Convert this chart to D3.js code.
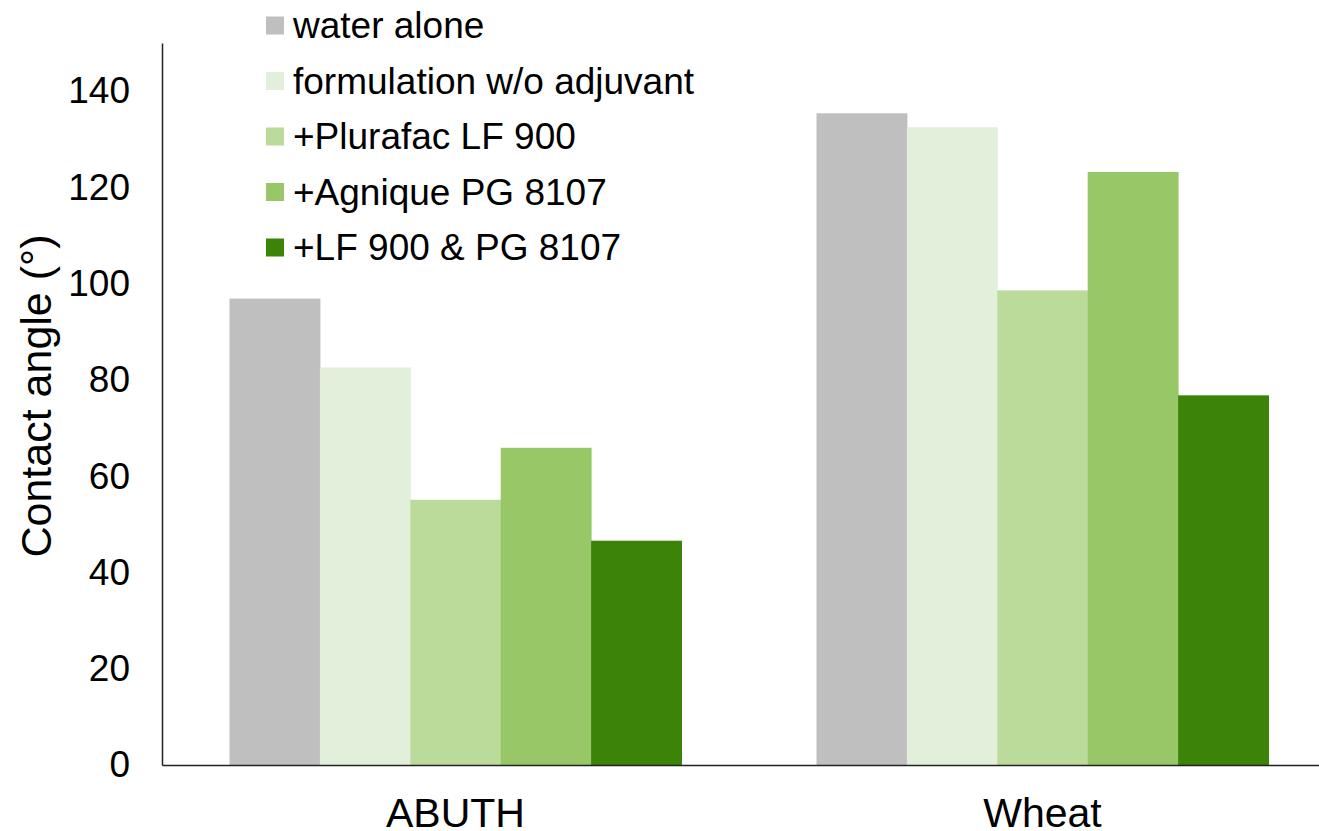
<!DOCTYPE html>
<html>
<head>
<meta charset="utf-8">
<script src="https://cdn.jsdelivr.net/npm/d3@7"></script>
<style>
    body { margin: 0; background: white; }
    text { font-family: "Liberation Sans", Arial, sans-serif; fill: #000; }
</style>
</head>
<body>
<div id="chart"></div>
<script>

// data
const categories = ["ABUTH", "Wheat"];
const seriesNames = ["water alone", "formulation w/o adjuvant", "+Plurafac LF 900", "+Agnique PG 8107", "+LF 900 & PG 8107"];
const seriesColors = ["#BFBFBF", "#E2EFDA", "#BADB9A", "#97C766", "#3B8407"];
const abuthValues = [96.9, 82.6, 55.1, 65.9, 46.6];
const wheatValues = [135.4, 132.5, 98.6, 123.2, 76.8];
const yTicks = [0, 20, 40, 60, 80, 100, 120, 140];

const valuesByCategory = {ABUTH: abuthValues, Wheat: wheatValues};

let width = 1319, height = 831;
let margin = {left: 162, top: 43, bottom: 66};

let svg = d3.select("#chart").append("svg")
    .attr("width", width)
    .attr("height", height);

// scales
let y = d3.scaleLinear()
    .domain([0, 150])
    .range([height - margin.bottom, margin.top]);

let x0 = d3.scaleBand()
    .domain(categories)
    .range([margin.left, 1336])
    .paddingInner(0.23)
    .paddingOuter(0.115);

let x1 = d3.scaleBand()
    .domain(seriesNames)
    .range([0, x0.bandwidth()]);

let color = d3.scaleOrdinal().domain(seriesNames).range(seriesColors);

// bars
let groups = svg.selectAll(".group")
    .data(categories)
    .enter()
    .append("g")
    .attr("class", "group")
    .attr("transform", d => `translate(${x0(d)},0)`);

groups.selectAll("rect")
    .data(c => valuesByCategory[c].map((v, i) => ({name: seriesNames[i], value: v})))
    .enter()
    .append("rect")
    .attr("x", d => x1(d.name))
    .attr("width", x1.bandwidth() + 0.5)
    .attr("y", d => y(d.value))
    .attr("height", d => y(0) - y(d.value))
    .attr("fill", d => color(d.name));

// y axis
let yAxis = d3.axisLeft(y).tickValues(yTicks).tickSize(0).tickPadding(32);
let yG = svg.append("g")
    .attr("transform", `translate(${margin.left},0)`)
    .call(yAxis);
yG.select(".domain").attr("stroke", "#222").attr("stroke-width", 1.5);
yG.selectAll("text")
    .style("font-size", "37px")
    .style("font-family", "'Liberation Sans', Arial, sans-serif")
    .attr("fill", "#000");

// x axis
let xAxis = d3.axisBottom(x0).tickSize(0).tickPadding(33);
let xG = svg.append("g")
    .attr("transform", `translate(0,${y(0)})`)
    .call(xAxis);
xG.select(".domain").attr("stroke", "#222").attr("stroke-width", 1.5);
xG.selectAll("text")
    .style("font-size", "41px")
    .style("font-family", "'Liberation Sans', Arial, sans-serif")
    .attr("fill", "#000");

// y title
svg.append("text")
    .attr("transform", `translate(51, 396) rotate(-90)`)
    .attr("text-anchor", "middle")
    .style("font-size", "43px")
    .text("Contact angle (°)");

// legend
let legend = svg.append("g")
    .attr("transform", "translate(266, 0)");

let items = legend.selectAll(".item")
    .data(seriesNames)
    .enter()
    .append("g")
    .attr("class", "item")
    .attr("transform", (d, i) => `translate(0, ${25.5 + i * 55.5})`);

items.append("rect")
    .attr("x", 0)
    .attr("y", -9)
    .attr("width", 18)
    .attr("height", 18)
    .attr("fill", d => color(d));

items.append("text")
    .attr("x", 27)
    .attr("dy", "0.35em")
    .style("font-size", "37px")
    .text(d => d);

</script>
</body>
</html>
